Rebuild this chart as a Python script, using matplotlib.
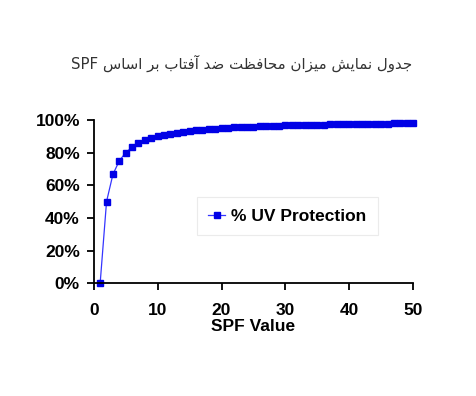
import matplotlib
matplotlib.use("Agg")
import matplotlib.pyplot as plt
from matplotlib.ticker import PercentFormatter

spf = list(range(1, 51))
uv_protection = [
    0.0, 0.5, 0.667, 0.75, 0.8, 0.833, 0.857, 0.875, 0.889, 0.9,
    0.909, 0.917, 0.923, 0.929, 0.933, 0.938, 0.941, 0.944, 0.947, 0.95,
    0.952, 0.955, 0.957, 0.958, 0.96, 0.962, 0.963, 0.964, 0.966, 0.967,
    0.968, 0.969, 0.97, 0.971, 0.971, 0.972, 0.973, 0.974, 0.974, 0.975,
    0.976, 0.976, 0.977, 0.977, 0.978, 0.978, 0.979, 0.979, 0.98, 0.98,
]
x_ticks = [0, 10, 20, 30, 40, 50]
y_ticks = [0, 0.2, 0.4, 0.6, 0.8, 1.0]
title = "جدول نمایش میزان محافظت ضد آفتاب بر اساس SPF"
series_name = "% UV Protection"
x_label = "SPF Value"

# matplotlib has no arabic shaping, so pick presentation forms by hand
# (isolated, final, initial, medial); two-form letters only join to the right
FORMS = {
    "ا": ("\uFE8D", "\uFE8E"),
    "آ": ("\uFE81", "\uFE82"),
    "د": ("\uFEA9", "\uFEAA"),
    "ر": ("\uFEAD", "\uFEAE"),
    "ز": ("\uFEAF", "\uFEB0"),
    "و": ("\uFEED", "\uFEEE"),
    "ب": ("\uFE8F", "\uFE90", "\uFE91", "\uFE92"),
    "ت": ("\uFE95", "\uFE96", "\uFE97", "\uFE98"),
    "ج": ("\uFE9D", "\uFE9E", "\uFE9F", "\uFEA0"),
    "ح": ("\uFEA1", "\uFEA2", "\uFEA3", "\uFEA4"),
    "س": ("\uFEB1", "\uFEB2", "\uFEB3", "\uFEB4"),
    "ش": ("\uFEB5", "\uFEB6", "\uFEB7", "\uFEB8"),
    "ض": ("\uFEBD", "\uFEBE", "\uFEBF", "\uFEC0"),
    "ظ": ("\uFEC5", "\uFEC6", "\uFEC7", "\uFEC8"),
    "ف": ("\uFED1", "\uFED2", "\uFED3", "\uFED4"),
    "ل": ("\uFEDD", "\uFEDE", "\uFEDF", "\uFEE0"),
    "م": ("\uFEE1", "\uFEE2", "\uFEE3", "\uFEE4"),
    "ن": ("\uFEE5", "\uFEE6", "\uFEE7", "\uFEE8"),
    "ی": ("\uFEEF", "\uFEF0", "\uFEF3", "\uFEF4"),
}


def shape_word(word):
    out = []
    for i, ch in enumerate(word):
        if ch not in FORMS:
            out.append(ch)
            continue
        prev = word[i - 1] if i > 0 else None
        nxt = word[i + 1] if i + 1 < len(word) else None
        join_prev = prev in FORMS and len(FORMS[prev]) == 4
        join_next = nxt in FORMS and len(FORMS[ch]) == 4
        f = FORMS[ch]
        if join_prev and join_next:
            out.append(f[3])
        elif join_prev:
            out.append(f[1])
        elif join_next:
            out.append(f[2])
        else:
            out.append(f[0])
    return "".join(out)


def rtl(text):
    words = []
    for w in text.split(" "):
        if any(c in FORMS for c in w):
            words.append(shape_word(w)[::-1])
        else:
            words.append(w)
    return " ".join(reversed(words))


fig = plt.figure(figsize=(4.76, 3.96), dpi=100)
ax = fig.add_axes([0.197, 0.285, 0.671, 0.412])

ax.plot(spf, uv_protection, color="#3535ff", lw=0.9,
        marker="s", markersize=4.0, markerfacecolor="#0000e6",
        markeredgecolor="#0000e6", label=series_name, clip_on=False)

ax.set_xlim(0, 50)
ax.set_ylim(0, 1)
ax.set_xticks(x_ticks)
ax.set_yticks(y_ticks)
ax.yaxis.set_major_formatter(PercentFormatter(1.0, decimals=0))

for s in ["top", "right"]:
    ax.spines[s].set_visible(False)
for s in ["left", "bottom"]:
    ax.spines[s].set_linewidth(1.3)
ax.tick_params(direction="out", length=5, width=1.3)
ax.tick_params(axis="x", pad=9)
ax.tick_params(axis="y", pad=5)
for lbl in ax.get_xticklabels() + ax.get_yticklabels():
    lbl.set_fontfamily("Liberation Sans")
    lbl.set_fontweight("bold")
    lbl.set_fontsize(12.5)

ax.set_xlabel(x_label, fontfamily="Liberation Sans", fontweight="bold",
              fontsize=12.5, labelpad=1)

leg = ax.legend(loc="center", bbox_to_anchor=(0.606, 0.41), frameon=True,
                fancybox=False, handlelength=1.0, handletextpad=0.35,
                borderpad=0.65, prop={"family": "Liberation Sans",
                                      "weight": "bold", "size": 12.5})
leg.get_frame().set_edgecolor("#e6e6e6")
leg.get_frame().set_linewidth(0.8)

fig.text(0.508, 0.84, rtl(title), ha="center", va="center",
         fontfamily="DejaVu Sans", fontsize=10.8, color="#333333")

fig.savefig("out.png", dpi=100)
